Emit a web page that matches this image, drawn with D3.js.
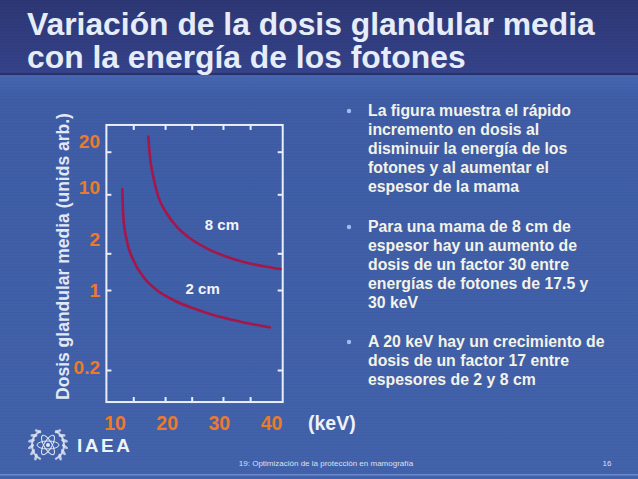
<!DOCTYPE html>
<html>
<head>
<meta charset="utf-8">
<script src="https://cdn.jsdelivr.net/npm/d3@7"></script>
<style>
html,body{margin:0;padding:0;background:#3e5ca4;}
svg{display:block;}
text{font-family:"Liberation Sans",Arial,sans-serif;}
</style>
</head>
<body>
<svg id="chart" width="638" height="479"></svg>
<script>
// ---------- data ----------
const titleLines = ["Variación de la dosis glandular media", "con la energía de los fotones"];
const yAxisTitle = "Dosis glandular media (unids arb.)";
const xUnitLabel = "(keV)";
const xTickLabels = [10, 20, 30, 40];
const xTickMarks = [13.5, 19.6, 24.7, 30.7, 35.9];
const yTickValues = [0.2, 1, 2, 10, 20];
const yTickLabels = ["0.2", "1", "2", "10", "20"];
const xExtent = [8.35, 42.15];
const yExtent = [0.105, 30.9];

const series8Name = "8 cm";
const series8Energy = [16.38, 16.70, 17.34, 18.30, 19.90, 21.82, 24.37, 27.57, 31.40, 35.23, 39.06, 41.74];
const series8Dose   = [25.5, 18.4, 13.3, 9.37, 5.96, 4.13, 3.01, 2.29, 1.876, 1.675, 1.553, 1.486];
const series2Name = "2 cm";
const series2Energy = [11.40, 11.59, 12.24, 13.51, 15.42, 17.99, 21.17, 25.00, 28.83, 32.66, 36.49, 39.69];
const series2Dose   = [10.85, 5.43, 2.87, 1.762, 1.285, 1.0, 0.818, 0.692, 0.605, 0.547, 0.501, 0.472];
const seriesLabelAt = [[30.5, 4.33], [26.8, 1.02]]; // label anchor in data units

const bullets = [
  ["La figura muestra el rápido", "incremento en dosis al", "disminuir la energía de los", "fotones y al aumentar el", "espesor de la mama"],
  ["Para una mama de 8 cm de", "espesor hay un aumento de", "dosis de un factor 30 entre", "energías de fotones de 17.5 y", "30 keV"],
  ["A 20 keV hay un crecimiento de", "dosis de un factor 17 entre", "espesores de 2 y 8 cm"]
];
const footerText = "19: Optimización de la protección en mamografía";
const pageNumber = "16";
const logoText = "IAEA";

// ---------- drawing ----------
const svg = d3.select("#chart");
const W = 638, H = 479;
const defs = svg.append("defs");
const gTitle = defs.append("linearGradient").attr("id","gt").attr("x1",0).attr("y1",0).attr("x2",0).attr("y2",1);
gTitle.append("stop").attr("offset","0%").attr("stop-color","#2d3775");
gTitle.append("stop").attr("offset","100%").attr("stop-color","#35438b");
const gBody = defs.append("linearGradient").attr("id","gb").attr("x1",0).attr("y1",0).attr("x2",0).attr("y2",1);
gBody.append("stop").attr("offset","0%").attr("stop-color","#4767b3");
gBody.append("stop").attr("offset","6%").attr("stop-color","#3f5da7");
gBody.append("stop").attr("offset","100%").attr("stop-color","#4262ab");
const pat = defs.append("pattern").attr("id","scan").attr("width",4).attr("height",3).attr("patternUnits","userSpaceOnUse");
pat.append("rect").attr("width",4).attr("height",1).attr("fill","#000").attr("opacity",0.035);

svg.append("rect").attr("x",0).attr("y",75).attr("width",W).attr("height",H-75).attr("fill","url(#gb)");
svg.append("rect").attr("x",0).attr("y",0).attr("width",W).attr("height",75).attr("fill","url(#gt)");
svg.append("rect").attr("x",0).attr("y",73).attr("width",W).attr("height",2).attr("fill","#27316a");
svg.append("rect").attr("width",W).attr("height",H).attr("fill","url(#scan)");
svg.append("rect").attr("x",0).attr("y",474).attr("width",W).attr("height",1.5).attr("fill","#6a88cc");

// title
const tl = svg.append("g").selectAll("text").data(titleLines).join("text")
  .attr("x", 27).attr("y", (d,i) => 35 + i*33)
  .attr("fill", "#e6edf8").attr("font-weight","bold").attr("font-size", 30)
  .text(d => d);
const w0 = tl.nodes()[0].getComputedTextLength();
tl.attr("font-size", 30 * 568 / w0);

// scales
const x = d3.scaleLinear().domain([10, 40]).range([115, 271.5]);
const y = d3.scaleLog().domain(yTickValues).range([370, 290, 253.3, 194.3, 151.7]);

const x0 = x(xExtent[0]), x1 = x(xExtent[1]);
const y0 = y(yExtent[0]), y1 = y(yExtent[1]);

const axisColor = "#e9eef8";
const plot = svg.append("g");
plot.append("rect").attr("x", x0).attr("y", y1).attr("width", x1 - x0).attr("height", y0 - y1)
  .attr("fill","none").attr("stroke",axisColor).attr("stroke-width",2);

function styleAxis(g){ g.select(".domain").remove(); g.selectAll("line").attr("stroke",axisColor).attr("stroke-width",2); g.selectAll("text").remove(); }
plot.append("g").attr("transform",`translate(0,${y0})`).call(d3.axisTop(x).tickValues(xTickMarks).tickSize(5)).call(styleAxis);
plot.append("g").attr("transform",`translate(0,${y1})`).call(d3.axisBottom(x).tickValues(xTickMarks).tickSize(5)).call(styleAxis);
plot.append("g").attr("transform",`translate(${x0},0)`).call(d3.axisRight(y).tickValues(yTickValues).tickSize(5)).call(styleAxis);
plot.append("g").attr("transform",`translate(${x1},0)`).call(d3.axisLeft(y).tickValues(yTickValues).tickSize(5)).call(styleAxis);

// tick labels
const orange = "#ec7a2a";
const yLabelShift = [-3, 0, -14, -7, -10];
svg.append("g").selectAll("text").data(yTickValues).join("text")
  .attr("x", 100).attr("y", (d,i) => y(d) + yLabelShift[i]).attr("dy","0.35em")
  .attr("text-anchor","end").attr("fill",orange).attr("font-weight","bold").attr("font-size",19)
  .text((d,i) => yTickLabels[i]);
svg.append("g").selectAll("text").data(xTickLabels).join("text")
  .attr("x", d => x(d)).attr("y", 430)
  .attr("text-anchor","middle").attr("fill",orange).attr("font-weight","bold").attr("font-size",19.5)
  .text(d => d);
svg.append("text").attr("x", 308).attr("y", 430).attr("fill","#eef2fa").attr("font-weight","bold").attr("font-size",19.5)
  .text(xUnitLabel);

// y axis title
const yt = svg.append("text").attr("transform","translate(62.5,256.5) rotate(-90)")
  .attr("text-anchor","middle").attr("dominant-baseline","central")
  .attr("fill","#e2e9f6").attr("font-weight","bold").attr("font-size",15).text(yAxisTitle);
const ytw = yt.node().getComputedTextLength();
yt.attr("font-size", 15 * 287 / ytw);

// curves
const line = d3.line().x(d => x(d[0])).y(d => y(d[1])).curve(d3.curveMonotoneX);
const series = [
  {name: series8Name, pts: d3.zip(series8Energy, series8Dose)},
  {name: series2Name, pts: d3.zip(series2Energy, series2Dose)}
];
svg.append("g").selectAll("path").data(series).join("path")
  .attr("d", d => line(d.pts)).attr("fill","none").attr("stroke","#a5164a").attr("stroke-width",2.6)
  .attr("stroke-linecap","round");
svg.append("g").selectAll("text").data(series).join("text")
  .attr("x", (d,i) => x(seriesLabelAt[i][0])).attr("y", (d,i) => y(seriesLabelAt[i][1]))
  .attr("text-anchor","middle").attr("dy","0.35em")
  .attr("fill","#f2f4f8").attr("font-weight","bold").attr("font-size",15)
  .text(d => d.name);

// bullets
const bulletStarts = [116, 232, 347];
const lh = 19.1;
const bg = svg.append("g");
bullets.forEach((lines, bi) => {
  bg.append("circle").attr("cx", 349).attr("cy", bulletStarts[bi] - 5).attr("r", 2.2).attr("fill","#9fbcf2");
  bg.append("g").selectAll("text").data(lines).join("text")
    .attr("x", 368).attr("y", (d,i) => bulletStarts[bi] + i*lh)
    .attr("fill","#f3f3e8").attr("font-weight","bold").attr("font-size",15.8).text(d => d);
});

// footer
svg.append("text").attr("x", 326).attr("y", 466).attr("text-anchor","middle")
  .attr("fill","#d9e1f2").attr("font-size",8).text(footerText);
svg.append("text").attr("x", 607).attr("y", 466).attr("text-anchor","middle")
  .attr("fill","#d9e1f2").attr("font-size",8).text(pageNumber);

// IAEA logo
const logo = svg.append("g").attr("transform","translate(48,445)");
const lc = "#dfe6f3";
[-1, 1].forEach(s => {
  logo.append("path").attr("d", d3.arc()({innerRadius:15, outerRadius:17, startAngle: s*Math.PI*0.15, endAngle: s*Math.PI*0.85}))
    .attr("fill", lc).attr("opacity",0.85);
  d3.range(6).forEach(k => {
    const a = (0.2 + k*0.11) * Math.PI;
    logo.append("ellipse").attr("cx", s*Math.sin(a)*17).attr("cy", -Math.cos(a)*17).attr("rx",1.5).attr("ry",3.5)
      .attr("transform", `rotate(${s*a*180/Math.PI + s*30},${s*Math.sin(a)*17},${-Math.cos(a)*17})`)
      .attr("fill", lc).attr("opacity",0.8);
  });
});
[0, 60, 120].forEach(r => {
  logo.append("ellipse").attr("rx", 11).attr("ry", 4).attr("transform", `rotate(${r})`)
    .attr("fill","none").attr("stroke", lc).attr("stroke-width",1);
});
logo.append("circle").attr("r", 2).attr("fill", lc);
svg.append("text").attr("x", 77).attr("y", 452).attr("fill","#eef2fa").attr("font-weight","bold")
  .attr("font-size",19).attr("letter-spacing",2.5).text(logoText);
</script>
</body>
</html>
